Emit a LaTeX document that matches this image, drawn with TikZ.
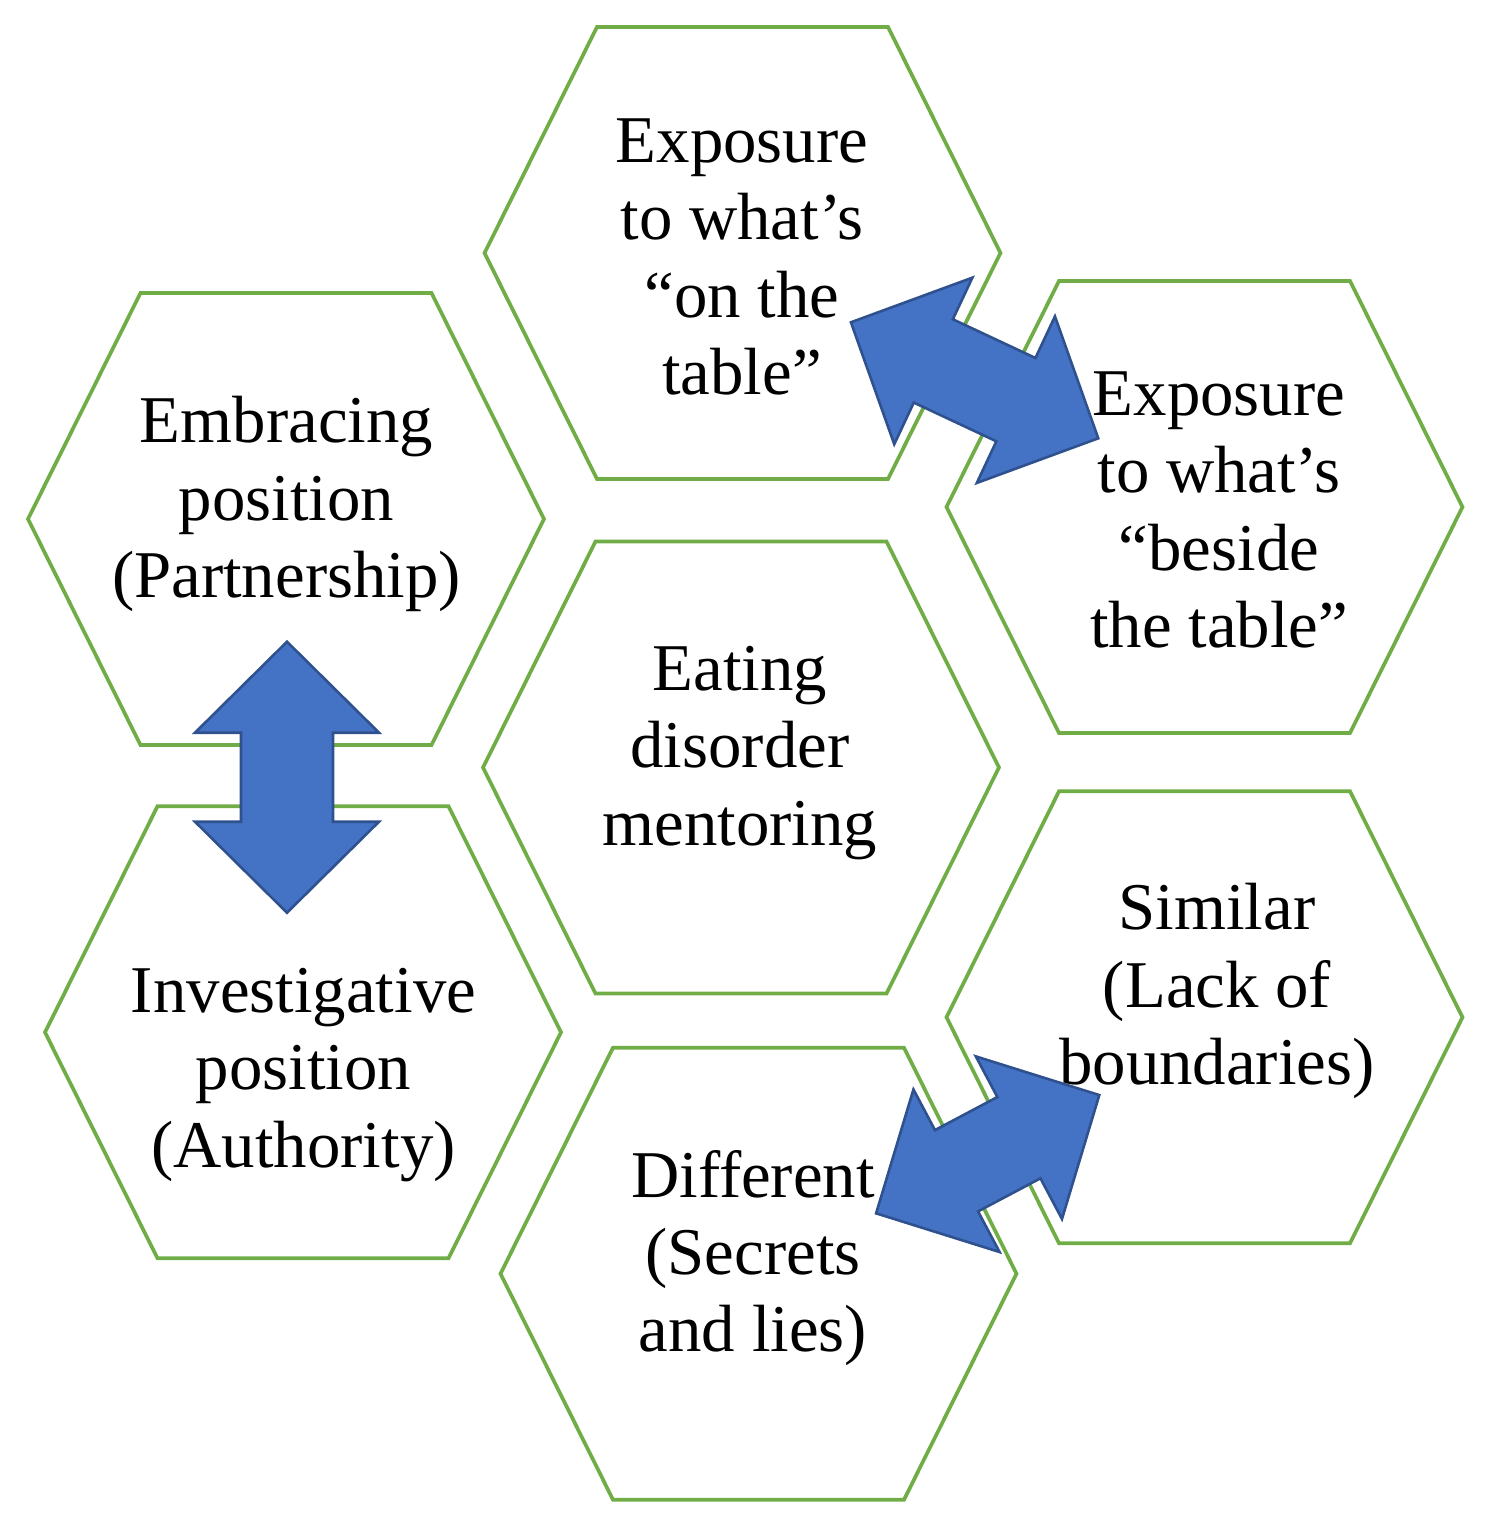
\documentclass[tikz,border=0pt]{standalone}
\usepackage{fontspec}
\setmainfont{Liberation Serif}
\definecolor{hexgreen}{HTML}{70AD47}
\definecolor{arrowblue}{HTML}{4472C4}
\definecolor{arrowedge}{HTML}{2F528F}
\tikzset{
  hexline/.style={draw=hexgreen,line width=1.85pt,line join=miter},
  blockarrow/.style={fill=arrowblue,draw=arrowedge,line width=1.3pt,line join=miter},
  hexlabel/.style={align=center,inner sep=0pt,font=\fontsize{33.4}{38.6}\selectfont},
  hexagon/.pic={\draw[hexline] (-258,0) -- (-145.5,-226) -- (145.5,-226) -- (258,0) -- (145.5,226) -- (-145.5,226) -- cycle;},
  dblarr/.pic={\draw[blockarrow] (-#1,0) -- (-#1+91,92) -- (-#1+91,46) -- (#1-91,46) -- (#1-91,92) -- (#1,0) -- (#1-91,-92) -- (#1-91,-46) -- (-#1+91,-46) -- (-#1+91,-92) -- cycle;}
}
\begin{document}
\begin{tikzpicture}[x=0.5pt,y=-0.5pt]
\useasboundingbox (0,0) rectangle (1488,1521);
% hexagons
\pic at (742.5,253) {hexagon};
\pic at (1204.5,507) {hexagon};
\pic at (286,519) {hexagon};
\pic at (741,767.5) {hexagon};
\pic at (303,1032.3) {hexagon};
\pic at (1204.5,1017.3) {hexagon};
\pic at (758.5,1273.7) {hexagon};
% block arrows
\pic[rotate=-25.13] at (974.6,380.3) {dblarr=136.6};
\pic[rotate=27.92] at (987.7,1154.2) {dblarr=126.3};
\pic[rotate=90] at (287,777.2) {dblarr=135.5};
% labels
\node[hexlabel] (ontable) at (742,257) {Exposure\\to what’s\\“on the\\table”};
\node[hexlabel] (beside) at (1219,510) {Exposure\\to what’s\\“beside\\the table”};
\node[hexlabel] (embrace) at (286.5,504) {Embracing\\position\\(Partnership)};
\node[hexlabel] (center) at (740,753) {Eating\\disorder\\mentoring};
\node[hexlabel] (invest) at (303.5,1075) {Investigative\\position\\(Authority)};
\node[hexlabel] (similar) at (1217,991) {Similar\\(Lack of\\boundaries)};
\node[hexlabel] (different) at (753,1258) {Different\\(Secrets\\and lies)};
\end{tikzpicture}
\end{document}
